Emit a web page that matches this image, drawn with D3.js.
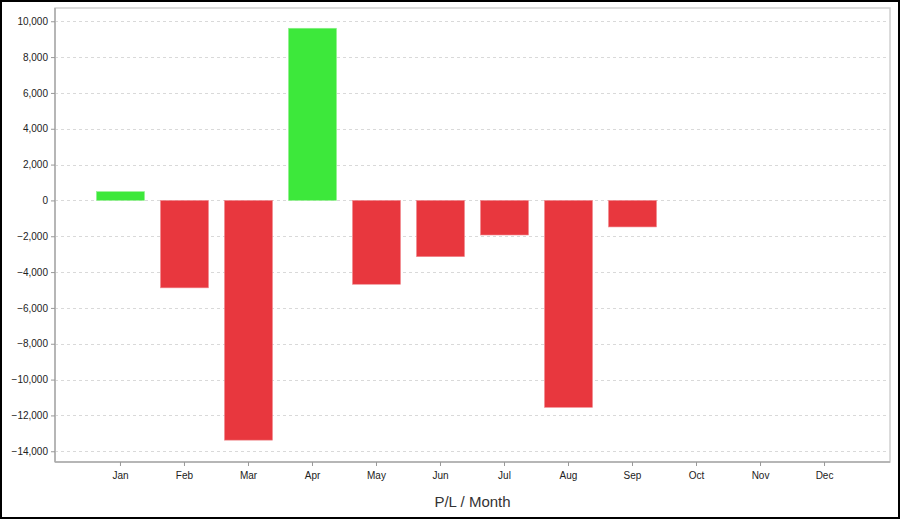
<!DOCTYPE html>
<html>
<head>
<meta charset="utf-8">
<script src="https://cdn.jsdelivr.net/npm/d3@7"></script>
<style>
  html, body { margin: 0; padding: 0; background: #fff; }
  svg { display: block; }
  text { font-family: "Liberation Sans", Arial, sans-serif; }
</style>
</head>
<body>
<svg id="chart" width="900" height="519"></svg>
<script>
const months = ["Jan","Feb","Mar","Apr","May","Jun","Jul","Aug","Sep","Oct","Nov","Dec"];
const plValues = [490, -4880, -13380, 9610, -4680, -3140, -1930, -11550, -1480, null, null, null];
const yTicks = [-14000,-12000,-10000,-8000,-6000,-4000,-2000,0,2000,4000,6000,8000,10000];
const chartTitle = "P/L / Month";

(function () {
const svg = d3.select("#chart");
const W = 900, H = 519;
const pLeft = 55, pRight = 890, pTop = 8, pBottom = 462;

// outer black border
svg.append("rect").attr("x", 1).attr("y", 1).attr("width", W - 2).attr("height", H - 2)
  .attr("fill", "#fff").attr("stroke", "#000").attr("stroke-width", 2);

const x = d3.scaleBand().domain(months).range([pLeft, pRight])
  .paddingInner(0.25).paddingOuter(0.648);
const y = d3.scaleLinear().domain([-14600, 10740]).range([pBottom, pTop]);

// plot frame (top/right light)
svg.append("rect").attr("x", pLeft).attr("y", pTop).attr("width", pRight - pLeft).attr("height", pBottom - pTop)
  .attr("fill", "#fff").attr("stroke", "#cfcfcf").attr("stroke-width", 1.5);

// gridlines
svg.append("g").selectAll("line").data(yTicks).join("line")
  .attr("x1", pLeft).attr("x2", pRight)
  .attr("y1", d => Math.round(y(d)) + 0.5).attr("y2", d => Math.round(y(d)) + 0.5)
  .attr("stroke", "#d9d9d9").attr("stroke-dasharray", "3,3");

// bars
const data = months.map((m, i) => ({ m, v: plValues[i] })).filter(d => d.v != null);
svg.append("g").selectAll("rect").data(data).join("rect")
  .attr("x", d => x(d.m))
  .attr("width", x.bandwidth())
  .attr("y", d => y(Math.max(0, d.v)))
  .attr("height", d => Math.abs(y(d.v) - y(0)))
  .attr("fill", d => d.v >= 0 ? "#3de83b" : "#e8373e")
  .attr("stroke", d => d.v >= 0 ? "#8ff08d" : "#f08a8f")
  .attr("stroke-width", 0.6);

// y axis
const yAxis = d3.axisLeft(y).tickValues(yTicks).tickSize(4).tickPadding(3)
  .tickFormat(d3.format(","));
const gy = svg.append("g").attr("transform", `translate(${pLeft},0)`).call(yAxis);
gy.select(".domain").attr("stroke", "#aaa").attr("stroke-width", 1.5)
  .attr("d", `M0,${pTop}V${pBottom}`);
gy.selectAll(".tick line").attr("stroke", "#999");
gy.selectAll(".tick text").attr("fill", "#222").style("font-size", "10px")
  .style("font-family", "'Liberation Sans', Arial, sans-serif");

// x axis
const xAxis = d3.axisBottom(x).tickSize(4).tickPadding(6);
const gx = svg.append("g").attr("transform", `translate(0,${pBottom})`).call(xAxis);
gx.select(".domain").attr("stroke", "#aaa").attr("stroke-width", 1.5)
  .attr("d", `M${pLeft},0H${pRight}`);
gx.selectAll(".tick line").attr("stroke", "#999");
gx.selectAll(".tick text").attr("fill", "#222").style("font-size", "10px")
  .style("font-family", "'Liberation Sans', Arial, sans-serif");

// title
svg.append("text").attr("x", (pLeft + pRight) / 2).attr("y", 507)
  .attr("text-anchor", "middle").attr("fill", "#333")
  .style("font-size", "15px").text(chartTitle);
})();
</script>
</body>
</html>
